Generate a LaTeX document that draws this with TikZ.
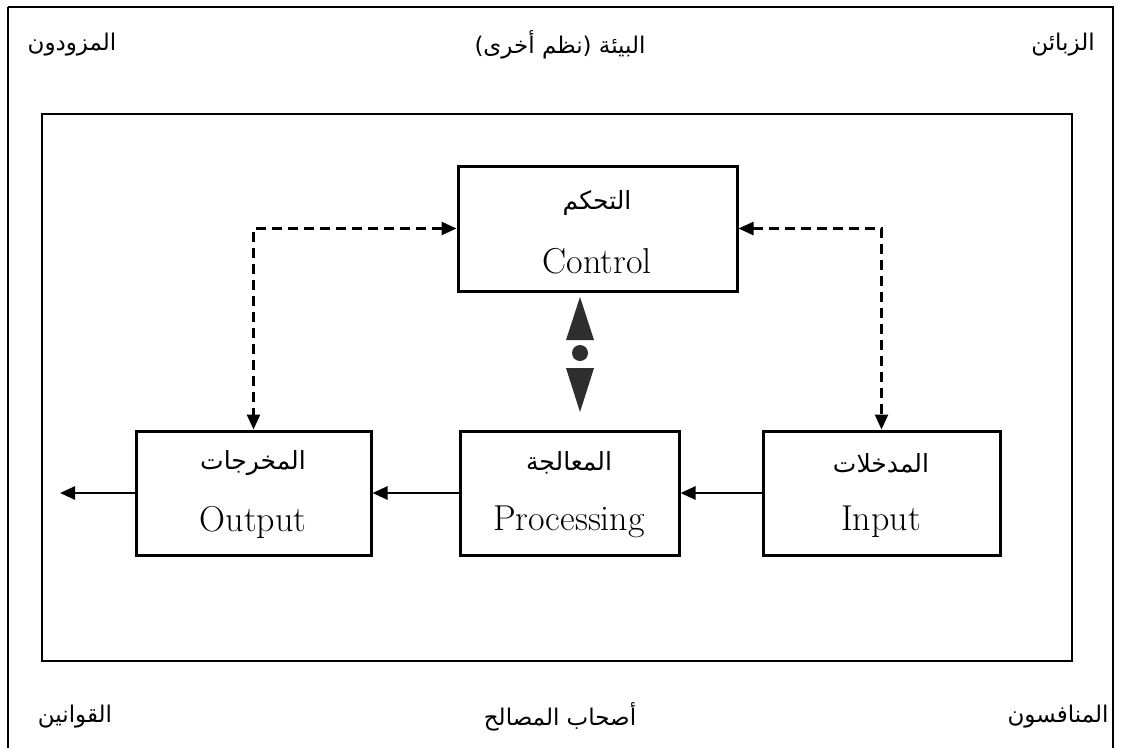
\documentclass[tikz,border=0pt]{standalone}
\usepackage{fontspec}
\usetikzlibrary{arrows.meta}
\TeXXeTstate=1
\newfontfamily\arabicfont[Script=Arabic]{DejaVu Sans}
\begin{document}
\begin{tikzpicture}[x=1pt,y=-1pt,
  frame/.style={draw=black,line width=2.8pt},
  box/.style={draw=black,line width=3pt,align=center,inner sep=0pt},
  flow/.style={line width=2.6pt,-{Triangle[length=15pt,width=13pt]}},
  dflow/.style={line width=2.6pt,dash pattern=on 10pt off 6pt,{Triangle[length=15pt,width=13pt]}-{Triangle[length=15pt,width=13pt]}},
  ar/.style={font=\arabicfont\fontsize{23}{26}\selectfont},
  arb/.style={font=\arabicfont\fontsize{25}{28}\selectfont},
  en/.style={font=\fontsize{36}{40}\selectfont}]
\useasboundingbox (0,0) rectangle (1123,747);
\fill[white] (0,0) rectangle (1123,747);
% outer and inner frames
\draw[frame] (8,7) -- (1113,7) -- (1113,760) (8,7) -- (8,760);
\draw[frame] (42,114) rectangle (1072,661);
% environment labels
\node[ar] (sup) at (72,45) {\beginR المزودون\endR};
\node[ar] (env) at (560,45) {\beginR البيئة (نظم أخرى)\endR};
\node[ar] (cust) at (1063,45) {\beginR الزبائن\endR};
\node[ar] (law) at (75,717) {\beginR القوانين\endR};
\node[ar] (stk) at (560,717) {\beginR أصحاب المصالح\endR};
\node[ar] (comp) at (1058,717) {\beginR المنافسون\endR};
% boxes
\node[box,minimum width=279pt,minimum height=125pt] (ctrl) at (597.5,228.5) {};
\node[box,minimum width=235pt,minimum height=124pt] (out) at (253.5,493) {};
\node[box,minimum width=219pt,minimum height=124pt] (proc) at (569.5,493) {};
\node[box,minimum width=237pt,minimum height=124pt] (inp) at (881.5,493) {};
% box texts
\node[arb] (ctrlA) at (597,203) {\beginR التحكم\endR};
\node[en] (ctrlE) at (597,261) {Control};
\node[arb] (outA) at (253,463) {\beginR المخرجات\endR};
\node[en] (outE) at (253,522) {Output};
\node[arb] (procA) at (569,463) {\beginR المعالجة\endR};
\node[en] (procE) at (569,522) {Processing};
\node[arb] (inpA) at (881,463) {\beginR المدخلات\endR};
\node[en] (inpE) at (881,522) {Input};
% connectors
\coordinate (exit) at (60,493);
\draw[flow] (inp.west) -- (proc.east);
\draw[flow] (proc.west) -- (out.east);
\draw[flow] (out.west) -- (exit);
\draw[dflow] (ctrl.west) -| (out.north);
\draw[dflow] (ctrl.east) -| (inp.north);
% two-way symbol
\fill[black!82] (566,340) -- (594,340) -- (580,297) -- cycle;
\fill[black!82] (580,353) circle (8);
\fill[black!82] (566,368) -- (594,368) -- (580,412) -- cycle;
\end{tikzpicture}
\end{document}
